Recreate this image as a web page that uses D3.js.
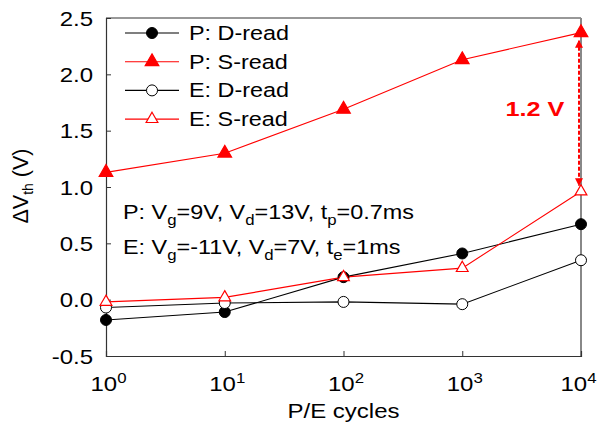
<!DOCTYPE html>
<html>
<head>
<meta charset="utf-8">
<script src="https://cdn.jsdelivr.net/npm/d3@7/dist/d3.min.js"></script>
<style>
  html, body { margin: 0; padding: 0; background: #fff; }
  svg { display: block; font-family: "Liberation Sans", Arial, Helvetica, sans-serif; }
</style>
</head>
<body>
<svg id="chart" width="600" height="439"></svg>
<script>
// P/E cycle counts (log axis)
const cycles = [1, 10, 100, 1000, 10000];
// Threshold-voltage shift (V) for each read mode
const pDRead = [-0.18, -0.11, 0.20, 0.41, 0.67];
const pSRead = [1.13, 1.30, 1.69, 2.13, 2.37];
const eDRead = [-0.07, -0.03, -0.02, -0.04, 0.35];
const eSRead = [-0.02, 0.02, 0.20, 0.28, 0.96];
const yTicks = [-0.5, 0.0, 0.5, 1.0, 1.5, 2.0, 2.5];
const xTickExps = [0, 1, 2, 3, 4];
const seriesNames = ["P: D-read", "P: S-read", "E: D-read", "E: S-read"];
const windowLabel = "1.2 V";

const SX = 1.2;      // horizontal widening of the label font
const FS = 20;       // base font size

const svg = d3.select("#chart");
const m = { left: 106, right: 19, top: 18, bottom: 83 };
const W = 600, H = 439;
const x = d3.scaleLog().domain([1, 10000]).range([m.left, W - m.right]);
const y = d3.scaleLinear().domain([-0.5, 2.5]).range([H - m.bottom, m.top]);

// text placed at (px, py) and widened horizontally about its anchor
function wideText(parent, px, py, anchor, size) {
  return parent.append("text")
    .attr("transform", `translate(${px},${py}) scale(${SX},1)`)
    .attr("text-anchor", anchor || "start")
    .attr("font-size", size || FS)
    .attr("fill", "#000");
}

const series = [
  { name: seriesNames[0], vals: pDRead, color: "#000", shape: "circle", fill: "#000" },
  { name: seriesNames[1], vals: pSRead, color: "#ff0000", shape: "triangle", fill: "#ff0000" },
  { name: seriesNames[2], vals: eDRead, color: "#000", shape: "circle", fill: "#fff" },
  { name: seriesNames[3], vals: eSRead, color: "#ff0000", shape: "triangle", fill: "#fff" }
];

// frame: top and right edges
svg.append("line").attr("x1", m.left).attr("x2", W - m.right).attr("y1", m.top).attr("y2", m.top)
  .attr("stroke", "#333").attr("stroke-width", 1.2);
svg.append("line").attr("x1", W - m.right).attr("x2", W - m.right).attr("y1", m.top).attr("y2", H - m.bottom)
  .attr("stroke", "#888").attr("stroke-width", 2);

// y axis with inward ticks
const yAxis = d3.axisLeft(y).tickValues(yTicks).tickSize(-5).tickFormat("");
const gy = svg.append("g").attr("transform", `translate(${m.left},0)`).call(yAxis);
gy.select(".domain").attr("stroke", "#333").attr("stroke-width", 1.2);
gy.selectAll(".tick line").attr("stroke", "#333");
gy.selectAll(".tick text").remove();
gy.selectAll(".tick").each(function (d) {
  wideText(d3.select(this), -13, 7, "end")
    .text(d < 0 ? "-" + Math.abs(d).toFixed(1) : d.toFixed(1));
});

// x axis with inward ticks and power-of-ten labels
const xAxis = d3.axisBottom(x).tickValues(xTickExps.map(e => Math.pow(10, e))).tickSize(-5).tickFormat("");
const gx = svg.append("g").attr("transform", `translate(0,${H - m.bottom})`).call(xAxis);
gx.select(".domain").attr("stroke", "#333").attr("stroke-width", 1.2);
gx.selectAll(".tick line").attr("stroke", "#333");
gx.selectAll(".tick text").remove();
gx.selectAll(".tick").each(function (d, i, nodes) {
  const last = i === nodes.length - 1;
  const t = wideText(d3.select(this), last ? -3 : 2, 35, "middle");
  t.append("tspan").text("10");
  t.append("tspan").attr("dy", -8).attr("font-size", 14).text(Math.round(Math.log10(d)));
});

// axis titles
wideText(svg, (m.left + W - m.right) / 2, 418, "middle").text("P/E cycles");
const yl = svg.append("text").attr("transform", `translate(28,${(m.top + H - m.bottom) / 2 - 1}) rotate(-90)`)
  .attr("text-anchor", "middle").attr("font-size", 21.5);
yl.append("tspan").text("\u0394V");
yl.append("tspan").attr("dy", 5).attr("font-size", 14).text("th");
yl.append("tspan").attr("dy", -5).text(" (V)");

const tri = d3.symbol().type(d3.symbolTriangle);
function drawMarker(g, s, cx, cy) {
  if (s.shape === "circle") {
    g.append("circle").attr("cx", cx).attr("cy", cy).attr("r", 5.5)
      .attr("fill", s.fill).attr("stroke", s.color).attr("stroke-width", 1);
  } else {
    g.append("path").attr("d", tri.size(s.fill === "#fff" ? 60 : 80)())
      .attr("transform", `translate(${cx},${cy})`)
      .attr("fill", s.fill).attr("stroke", s.color).attr("stroke-width", 1.2);
  }
}

const line = d3.line().x(d => x(d[0])).y(d => y(d[1]));
const plot = svg.append("g");
series.forEach(s => {
  const pts = cycles.map((c, i) => [c, s.vals[i]]);
  plot.append("path").attr("d", line(pts)).attr("fill", "none")
    .attr("stroke", s.color).attr("stroke-width", 1.1);
});
// markers drawn last, in series order
series.forEach(s => {
  cycles.forEach((c, i) => drawMarker(plot, s, x(c), y(s.vals[i])));
});

// memory window arrow between P: S-read and E: S-read at 10^4 cycles
const defs = svg.append("defs");
defs.append("marker").attr("id", "arrowHead").attr("viewBox", "0 0 10 10")
  .attr("refX", 9).attr("refY", 5).attr("markerWidth", 4).attr("markerHeight", 4)
  .attr("orient", "auto-start-reverse")
  .append("path").attr("d", "M0,0 L10,5 L0,10 z").attr("fill", "#ff0000");
const ax = x(10000) - 2;
svg.append("line").attr("x1", ax).attr("x2", ax)
  .attr("y1", y(pSRead[4]) + 8).attr("y2", y(eSRead[4]) - 6)
  .attr("stroke", "#ff0000").attr("stroke-width", 2).attr("stroke-dasharray", "4,2")
  .attr("marker-start", "url(#arrowHead)").attr("marker-end", "url(#arrowHead)");
wideText(svg, 535, 116, "middle", 21).attr("font-weight", "bold").attr("fill", "#ff0000").text(windowLabel);

// legend
const lg = svg.append("g");
series.forEach((s, i) => {
  const ly = 33 + i * 28.7;
  lg.append("line").attr("x1", 125).attr("x2", 179).attr("y1", ly).attr("y2", ly)
    .attr("stroke", s.color).attr("stroke-width", 1.1);
  drawMarker(lg, s, 152, ly);
  wideText(lg, 189, ly + 7, "start", 19.5).text(s.name);
});

// programming / erase conditions, with subscripts
function condLine(yPos, parts) {
  const t = wideText(svg, 123, yPos, "start", 19.5);
  let lowered = false;
  parts.forEach(p => {
    const ts = t.append("tspan");
    if (p.sub) {
      ts.attr("dy", 6).attr("font-size", 14).text(p.sub);
      lowered = true;
    } else {
      if (lowered) ts.attr("dy", -6);
      lowered = false;
      ts.text(p.t);
    }
  });
}
condLine(219, [{ t: "P: V" }, { sub: "g" }, { t: "=9V, V" }, { sub: "d" }, { t: "=13V, t" }, { sub: "p" }, { t: "=0.7ms" }]);
condLine(254, [{ t: "E: V" }, { sub: "g" }, { t: "=-11V, V" }, { sub: "d" }, { t: "=7V, t" }, { sub: "e" }, { t: "=1ms" }]);
</script>
</body>
</html>
